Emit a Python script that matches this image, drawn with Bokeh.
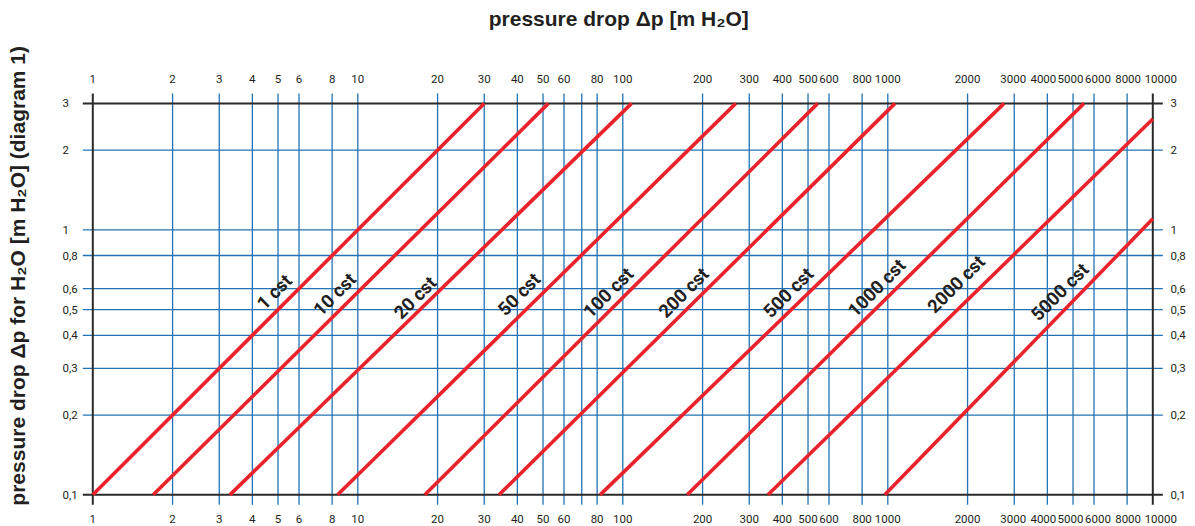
import numpy as np
from bokeh.plotting import figure
from bokeh.models import Range1d
from bokeh.core.properties import value
from bokeh.embed import file_html
from bokeh.resources import INLINE

# ---------------- data ----------------
x_ticks = [1, 2, 3, 4, 5, 6, 8, 10, 20, 30, 40, 50, 60, 80, 100, 200, 300, 400, 500,
           600, 800, 1000, 2000, 3000, 4000, 5000, 6000, 8000, 10000]
x_tick_labels = [str(v) for v in x_ticks]
x_grid = [2, 3, 4, 5, 6, 8, 10, 20, 30, 40, 50, 60, 70, 80, 100, 200, 300, 400, 500,
          600, 800, 1000, 2000, 3000, 4000, 5000, 6000, 8000]
y_ticks = [0.1, 0.2, 0.3, 0.4, 0.5, 0.6, 0.8, 1, 2, 3]
y_tick_labels = ["0,1", "0,2", "0,3", "0,4", "0,5", "0,6", "0,8", "1", "2", "3"]
y_grid = [0.2, 0.3, 0.4, 0.5, 0.6, 0.8, 1, 2]

viscosity = ["1 cst", "10 cst", "20 cst", "50 cst", "100 cst", "200 cst",
             "500 cst", "1000 cst", "2000 cst", "5000 cst"]
line_x0 = [1, 1.69, 3.29, 8.39, 17.9, 34.1, 82.1, 175, 353, 974]
line_y0 = [0.1, 0.1, 0.1, 0.1, 0.1, 0.1, 0.1, 0.1, 0.1, 0.1]
line_x1 = [30, 52.4, 108, 267, 544, 1065, 2748, 5501, 10000, 10000]
line_y1 = [3, 3, 3, 3, 3, 3, 3, 3, 2.62, 1.10]

top_title = "pressure drop \u0394p [m H\u2082O]"
left_title = "pressure drop \u0394p for H\u2082O [m H\u2082O] (diagram 1)"

# ---------------- layout / style ----------------
W, H = 1195, 526
PXD = 265.0            # pixels per decade (both axes)
X1_PX = 92.3           # screen x of x=1
Y3_PX = 102.9          # screen y of y=3
EXT = 10 ** (10 / PXD)  # grid lines run 10 px beyond the frame

TICK_FONT = value("Roboto")
LABEL_FONT = value("Roboto")
TITLE_FONT = value("Liberation Sans")
TEXT_COLOR = "#231f20"
GRID_COLOR = "#2372b4"
AXIS_COLOR = "#2a2a2a"
RED = "#e8232b"
TICK_SIZE = "11.5px"

# label placement along each line and horizontal offset from it (style)
label_y = [0.582, 0.570, 0.553, 0.570, 0.578, 0.578, 0.578, 0.603, 0.622, 0.582]
label_dx = [-21, -20.5, -16.5, -22, -19, -19.5, -20, -20, -27, -21.5]
# small horizontal nudges (px) of crowded x tick labels, as in the original
x_label_nudge = {3000: -1, 4000: -4, 5000: -2.5, 6000: 4, 8000: 1, 10000: 8}


def sx(x, px):
    return x * 10 ** (px / PXD)


def sy(y, px_up):
    return y * 10 ** (px_up / PXD)


x_range = Range1d(10 ** (-X1_PX / PXD), 10 ** ((W - X1_PX) / PXD))
y_range = Range1d(10 ** (np.log10(3) - (H - Y3_PX) / PXD),
                  10 ** (np.log10(3) + Y3_PX / PXD))

p = figure(width=W, height=H, x_axis_type="log", y_axis_type="log",
           x_range=x_range, y_range=y_range,
           x_axis_location=None, y_axis_location=None,
           toolbar_location=None, output_backend="svg", title=None,
           min_border=0)
p.outline_line_color = None
p.background_fill_color = "white"
p.border_fill_color = "white"
p.xgrid.visible = False
p.ygrid.visible = False

xmin, xmax = x_ticks[0], x_ticks[-1]
ymin, ymax = y_ticks[0], y_ticks[-1]

# blue grid
p.segment(x0=x_grid, y0=[ymin / EXT] * len(x_grid), x1=x_grid, y1=[ymax * EXT] * len(x_grid),
          line_color=GRID_COLOR, line_width=1.3)
p.segment(x0=[xmin / EXT] * len(y_grid), y0=y_grid, x1=[xmax * EXT] * len(y_grid), y1=y_grid,
          line_color=GRID_COLOR, line_width=1.3)

# black frame (with tick extensions)
p.segment(x0=[xmin, xmax], y0=[ymin / EXT, ymin / EXT], x1=[xmin, xmax], y1=[ymax * EXT, ymax * EXT],
          line_color=AXIS_COLOR, line_width=2)
p.segment(x0=[xmin / EXT, xmin / EXT], y0=[ymin, ymax], x1=[xmax * EXT, xmax * EXT], y1=[ymin, ymax],
          line_color=AXIS_COLOR, line_width=2)

# viscosity lines
p.segment(x0=line_x0, y0=line_y0, x1=line_x1, y1=line_y1, line_color=RED, line_width=3.6)

# viscosity labels (placed on each line, shifted left)
lab_x = []
for x0, y0, x1, y1, ly, dx in zip(line_x0, line_y0, line_x1, line_y1, label_y, label_dx):
    t = (np.log10(ly) - np.log10(y0)) / (np.log10(y1) - np.log10(y0))
    lab_x.append(sx(10 ** (np.log10(x0) + t * (np.log10(x1) - np.log10(x0))), dx))
p.text(x=lab_x, y=label_y, text=viscosity, angle=np.pi / 4,
       text_font=LABEL_FONT, text_font_style="bold", text_font_size="18.5px",
       text_color=TEXT_COLOR, text_align="center", text_baseline="middle")

# tick labels
n = len(x_ticks)
x_lab_pos = [sx(v, x_label_nudge.get(v, 0)) for v in x_ticks]
p.text(x=x_lab_pos, y=[sy(ymax, 24.2)] * n, text=x_tick_labels, text_font=TICK_FONT,
       text_font_size=TICK_SIZE, text_color=TEXT_COLOR, text_align="center", text_baseline="middle")
p.text(x=x_lab_pos, y=[sy(ymin, -23.7)] * n, text=x_tick_labels, text_font=TICK_FONT,
       text_font_size=TICK_SIZE, text_color=TEXT_COLOR, text_align="center", text_baseline="middle")
m = len(y_ticks)
p.text(x=[sx(xmin, -30.3)] * m, y=y_ticks, text=y_tick_labels, text_font=TICK_FONT,
       text_font_size=TICK_SIZE, text_color=TEXT_COLOR, text_align="left", text_baseline="middle")
p.text(x=[sx(xmax, 17.7)] * m, y=y_ticks, text=y_tick_labels, text_font=TICK_FONT,
       text_font_size=TICK_SIZE, text_color=TEXT_COLOR, text_align="left", text_baseline="middle")

# axis titles
p.text(x=[sx(100, -4)], y=[sy(ymax, 85)], text=[top_title], text_font=TITLE_FONT,
       text_font_style="bold", text_font_size="21px", text_color=TEXT_COLOR,
       text_align="center", text_baseline="middle")
p.text(x=[sx(xmin, -75)], y=[sy(ymin, 219)], text=[left_title], angle=np.pi / 2,
       text_font=TITLE_FONT, text_font_style="bold", text_font_size="21px",
       text_color=TEXT_COLOR, text_align="center", text_baseline="middle")

open("out.html", "w").write(file_html(p, INLINE))
